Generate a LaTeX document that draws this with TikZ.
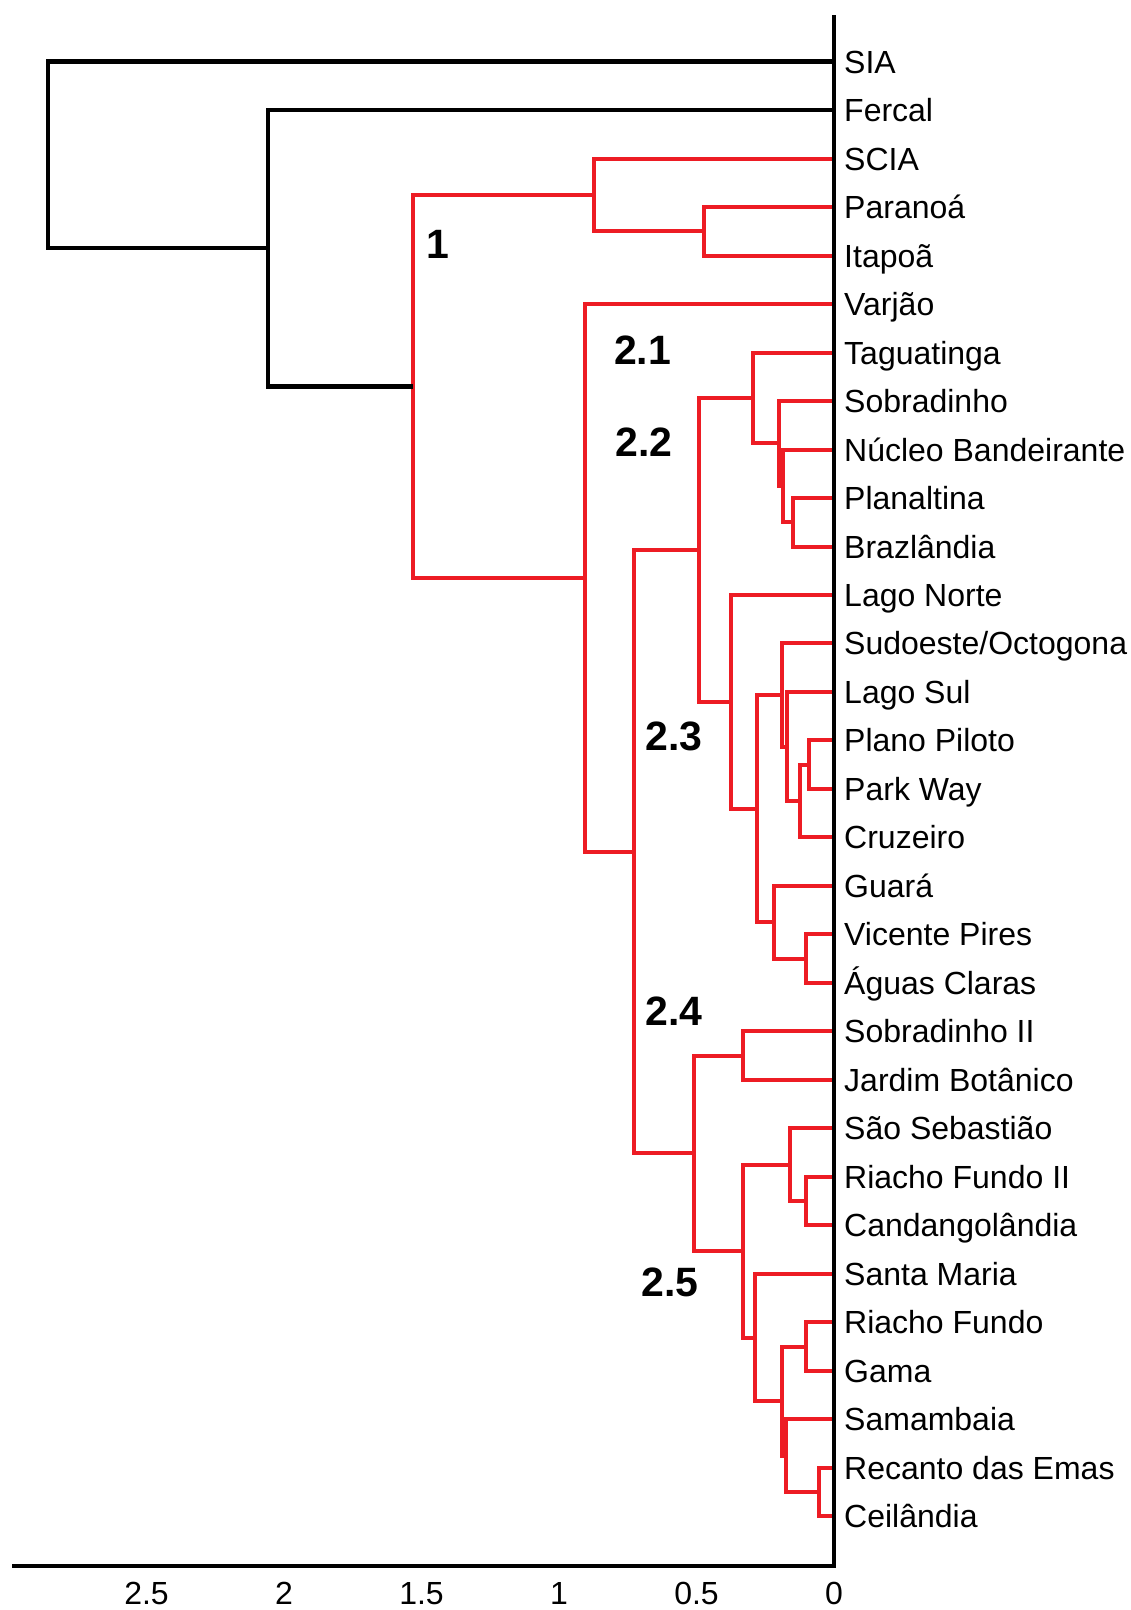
\documentclass[tikz,border=0pt]{standalone}
\usepackage{fontspec}
\setmainfont{Liberation Sans}
\usetikzlibrary{calc}
\definecolor{dred}{RGB}{237,28,36}
\newcommand\mkdnode[4]{%
  \coordinate (#1m) at ($(#3)!.5!(#4)$);
  \coordinate (#1x) at (#2,0);
  \coordinate (#1) at (#1m -| #1x);
}
\newcommand\elbow[4]{\draw[#1] (#2) |- (#3) (#2) |- (#4);}
\begin{document}
\begin{tikzpicture}[x=1pt,y=-1pt,
  rd/.style={draw=dred,line width=4pt,line join=miter},
  bk/.style={draw=black,line width=4.3pt,line join=miter},
  axisline/.style={draw=black,line width=4.5pt,line join=miter},
  leaf/.style={anchor=base west,inner sep=0pt,font=\fontsize{32}{38}\selectfont},
  tick/.style={anchor=base,inner sep=0pt,font=\fontsize{32}{38}\selectfont},
  clab/.style={inner sep=0pt,font=\fontsize{41}{48}\selectfont\bfseries}]
\fill[white] (0,0) rectangle (1131,1610);
\useasboundingbox (0,0) rectangle (1131,1610);

\foreach \nm [count=\i from 0] in {SIA,Fercal,SCIA,Paranoá,Itapoã,Varjão,Taguatinga,Sobradinho,Núcleo Bandeirante,Planaltina,Brazlândia,Lago Norte,Sudoeste/Octogona,Lago Sul,Plano Piloto,Park Way,Cruzeiro,Guará,Vicente Pires,Águas Claras,Sobradinho II,Jardim Botânico,São Sebastião,Riacho Fundo II,Candangolândia,Santa Maria,Riacho Fundo,Gama,Samambaia,Recanto das Emas,Ceilândia}{
  \coordinate (l\i) at (834,{61.6+48.49*\i});
  \node[leaf] (t\i) at (844,{73.1+48.49*\i}) {\nm};
}

\mkdnode{PI}{704}{l3}{l4}
\mkdnode{A}{594}{l2}{PI}
\mkdnode{PB}{793.3}{l9}{l10}
\mkdnode{FF}{782.7}{l8}{PB}
\mkdnode{F}{779.3}{l7}{FF}
\mkdnode{E}{753}{l6}{F}
\mkdnode{PPW}{809}{l14}{l15}
\mkdnode{IC}{800}{PPW}{l16}
\mkdnode{IB}{786.7}{l13}{IC}
\mkdnode{IA}{781.7}{l12}{IB}
\mkdnode{VA}{805.6}{l18}{l19}
\mkdnode{J}{774}{l17}{VA}
\mkdnode{H}{756.5}{IA}{J}
\mkdnode{G}{731}{l11}{H}
\mkdnode{D}{698.5}{E}{G}
\mkdnode{L}{743}{l20}{l21}
\mkdnode{RC}{805.6}{l23}{l24}
\mkdnode{N}{790}{l22}{RC}
\mkdnode{RG}{806}{l26}{l27}
\mkdnode{RE}{819.3}{l29}{l30}
\mkdnode{SR}{786}{l28}{RE}
\mkdnode{P}{781.7}{RG}{SR}
\mkdnode{O}{755.3}{l25}{P}
\mkdnode{M}{743}{N}{O}
\mkdnode{K}{693.8}{L}{M}
\mkdnode{C}{633.5}{D}{K}
\mkdnode{B}{584.5}{l5}{C}
\mkdnode{NA}{413}{A}{B}
\mkdnode{RA}{268}{l1}{NA}
\mkdnode{RZ}{48.3}{l0}{RA}

\elbow{rd}{PI}{l3}{l4}
\elbow{rd}{A}{l2}{PI}
\elbow{rd}{PB}{l9}{l10}
\elbow{rd}{FF}{l8}{PB}
\elbow{rd}{F}{l7}{FF}
\elbow{rd}{E}{l6}{F}
\elbow{rd}{PPW}{l14}{l15}
\elbow{rd}{IC}{PPW}{l16}
\elbow{rd}{IB}{l13}{IC}
\elbow{rd}{IA}{l12}{IB}
\elbow{rd}{VA}{l18}{l19}
\elbow{rd}{J}{l17}{VA}
\elbow{rd}{H}{IA}{J}
\elbow{rd}{G}{l11}{H}
\elbow{rd}{D}{E}{G}
\elbow{rd}{L}{l20}{l21}
\elbow{rd}{RC}{l23}{l24}
\elbow{rd}{N}{l22}{RC}
\elbow{rd}{RG}{l26}{l27}
\elbow{rd}{RE}{l29}{l30}
\elbow{rd}{SR}{l28}{RE}
\elbow{rd}{P}{RG}{SR}
\elbow{rd}{O}{l25}{P}
\elbow{rd}{M}{N}{O}
\elbow{rd}{K}{L}{M}
\elbow{rd}{C}{D}{K}
\elbow{rd}{B}{l5}{C}
\elbow{rd}{NA}{A}{B}
\elbow{bk}{RA}{l1}{NA}
\elbow{bk}{RZ}{l0}{RA}

\coordinate (axtop) at (834,15);
\coordinate (axcorner) at (834,1566);
\coordinate (axleft) at (12,1566);
\draw[axisline] (axtop) -- (axcorner) -- (axleft);

\foreach \v/\lab in {0/0,0.5/0.5,1/1,1.5/1.5,2/2,2.5/2.5}{
  \node[tick] (tick\lab) at ({834-275*\v},1604.5) {\lab};
}

\node[clab] (c1) at (438,244) {1};
\node[clab] (c21) at (642.5,350) {2.1};
\node[clab] (c22) at (644,442) {2.2};
\node[clab] (c23) at (674,736) {2.3};
\node[clab] (c24) at (674,1011) {2.4};
\node[clab] (c25) at (670,1282) {2.5};
\end{tikzpicture}
\end{document}
